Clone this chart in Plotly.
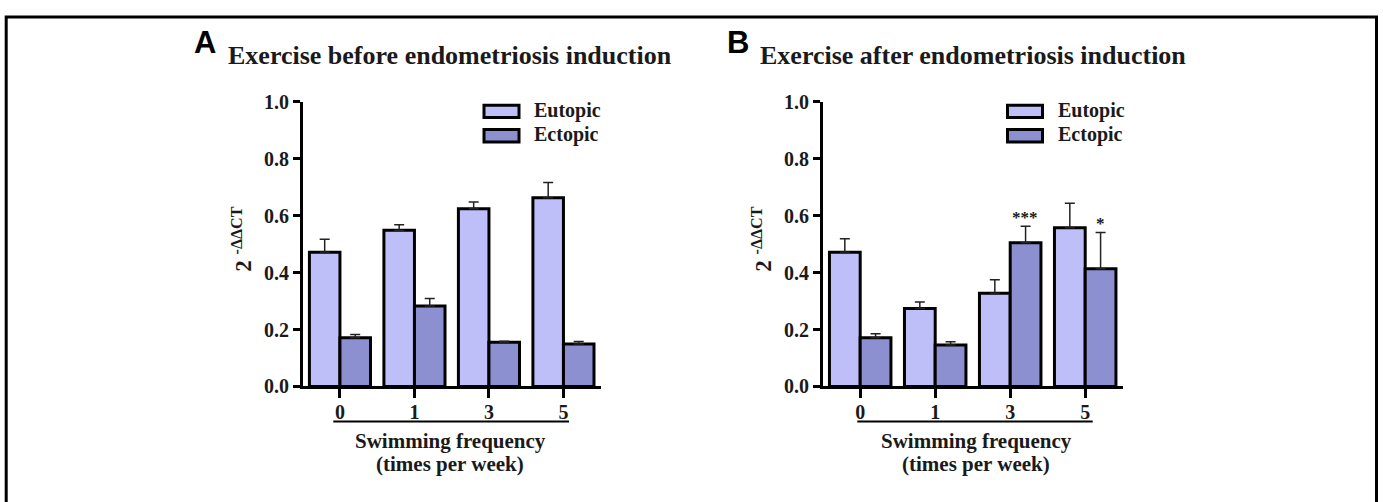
import plotly.graph_objects as go

W, H = 1383, 502

categories = ["0", "1", "3", "5"]
y_ticks = [0.0, 0.2, 0.4, 0.6, 0.8, 1.0]

a_eutopic = [0.472, 0.549, 0.624, 0.663]
a_eutopic_err = [0.045, 0.019, 0.024, 0.054]
a_ectopic = [0.171, 0.283, 0.155, 0.149]
a_ectopic_err = [0.012, 0.026, 0.004, 0.009]

b_eutopic = [0.472, 0.274, 0.328, 0.558]
b_eutopic_err = [0.047, 0.023, 0.047, 0.086]
b_ectopic = [0.171, 0.146, 0.505, 0.414]
b_ectopic_err = [0.014, 0.011, 0.058, 0.127]
b_ectopic_sig = ["", "", "***", "*"]

series_names = ["Eutopic", "Ectopic"]
panel_titles = ["Exercise before endometriosis induction", "Exercise after endometriosis induction"]
panel_letters = ["A", "B"]
x_title_lines = ["Swimming frequency", "(times per week)"]
y_title = "2 <sup>-ΔΔCT</sup>"

C_EU = "#BEBEF8"
C_EC = "#8C90D0"
SERIF = "Liberation Serif"
SANS = "Liberation Sans"
TXT = "#1a1a1a"


def px(x):
    return x / W


def py(y):
    return 1 - y / H


fig = go.Figure()

panels = [
    dict(xa="x", ya="y", eu=a_eutopic, eue=a_eutopic_err, ec=a_ectopic, ece=a_ectopic_err),
    dict(xa="x2", ya="y2", eu=b_eutopic, eue=b_eutopic_err, ec=b_ectopic, ece=b_ectopic_err),
]

for p in panels:
    for name, vals, errs, col in [(series_names[0], p["eu"], p["eue"], C_EU),
                                  (series_names[1], p["ec"], p["ece"], C_EC)]:
        fig.add_trace(go.Bar(
            x=categories, y=vals, name=name, xaxis=p["xa"], yaxis=p["ya"],
            marker=dict(color=col, line=dict(color="black", width=3)),
            error_y=dict(type="data", array=errs, arrayminus=[0] * len(errs), symmetric=False,
                         color="#222222", thickness=1.5, width=5),
            showlegend=False,
        ))

# geometry (pixels)
ax_left = [302.7, 822.7]
ax_right = [600.7, 1122.7]
y_top, y_bot = 95.0, 392.7

axis_common = dict(showgrid=False, zeroline=False, showline=True, linecolor="black",
                   ticks="outside", tickcolor="black", fixedrange=True)
tickfont = dict(family=SERIF, size=20, color=TXT, weight="bold")

layout = dict(
    width=W, height=H, margin=dict(l=0, r=0, t=0, b=0),
    paper_bgcolor="white", plot_bgcolor="white",
    barmode="group", bargap=0.18, bargroupgap=0,
)
for i, (xk, yk) in enumerate([("xaxis", "yaxis"), ("xaxis2", "yaxis2")]):
    layout[xk] = dict(axis_common, type="category", categoryorder="array", categoryarray=categories,
                      range=[-0.5, 3.5], domain=[px(ax_left[i]), px(ax_right[i])],
                      anchor="y" if i == 0 else "y2",
                      linewidth=3, ticklen=9, tickwidth=2.5, tickfont=tickfont,
                      ticklabelstandoff=-3)
    layout[yk] = dict(axis_common, range=[0, 1.0], domain=[py(y_bot), py(y_top)],
                      anchor="x" if i == 0 else "x2",
                      tickvals=y_ticks, tickformat=".1f",
                      linewidth=2.5, ticklen=7, tickwidth=2.5, tickfont=tickfont)

fig.update_layout(**layout)

# frame
fig.add_shape(type="rect", xref="paper", yref="paper", x0=px(6.2), x1=px(1376.5), y0=py(540), y1=py(6.2),
              line=dict(color="black", width=3), fillcolor="rgba(0,0,0,0)")

letter_x = [192, 725]
title_x = [226, 758]
legend_box_x = [484, 1007.5]
legend_text_x = [532, 1056]
under_x = [(333.3, 569.0), (857.3, 1092.7)]
sub_center = [450, 976]

for i in range(2):
    fig.add_annotation(xref="paper", yref="paper", x=px(letter_x[i]), y=py(33), xanchor="left", yanchor="middle",
                       text=panel_letters[i], showarrow=False,
                       font=dict(family=SANS, size=31, color="black", weight="bold"))
    fig.add_annotation(xref="paper", yref="paper", x=px(title_x[i]), y=py(47), xanchor="left", yanchor="middle",
                       text=panel_titles[i], showarrow=False,
                       font=dict(family=SERIF, size=26, color=TXT, weight="bold"))
    # legend
    for j, (yc, col) in enumerate([(105, C_EU), (130.5, C_EC)]):
        fig.add_shape(type="rect", xref="paper", yref="paper",
                      x0=px(legend_box_x[i]), x1=px(legend_box_x[i] + 35),
                      y0=py(yc + 6.5), y1=py(yc - 6.5),
                      line=dict(color="black", width=3), fillcolor=col)
        fig.add_annotation(xref="paper", yref="paper", x=px(legend_text_x[i]), y=py(yc - 1), xanchor="left",
                           yanchor="middle", text=series_names[j], showarrow=False,
                           font=dict(family=SERIF, size=20, color=TXT, weight="bold"))
    # underline of x ticks
    fig.add_shape(type="line", xref="paper", yref="paper", x0=px(under_x[i][0]), x1=px(under_x[i][1]),
                  y0=py(429.3), y1=py(429.3), line=dict(color="black", width=2))
    for j, yc in enumerate([450, 473.5]):
        fig.add_annotation(xref="paper", yref="paper", x=px(sub_center[i]), y=py(yc), xanchor="center",
                           yanchor="middle", text=x_title_lines[j], showarrow=False,
                           font=dict(family=SERIF, size=21, color=TXT, weight="bold"))
    # y title
    fig.add_annotation(xref="paper", yref="paper", x=px(ax_left[i] - 60.5), y=py(239), xanchor="center",
                       yanchor="middle", text=y_title, showarrow=False, textangle=-90,
                       font=dict(family=SERIF, size=23, color=TXT, weight="bold"))

# significance stars for panel B ectopic bars (x given as category index)
for k, s in enumerate(b_ectopic_sig):
    if s:
        fig.add_annotation(xref="x2", yref="y2", x=k, y=b_ectopic[k] + b_ectopic_err[k],
                           xshift=15, yshift=-3, xanchor="center", yanchor="bottom", text=s, showarrow=False,
                           font=dict(family=SERIF, size=17, color=TXT, weight="bold"))

fig.write_html("out.html")
